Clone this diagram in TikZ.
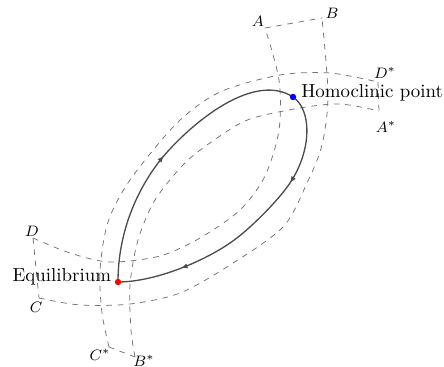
\documentclass[tikz,border=0pt]{standalone}
\usetikzlibrary{arrows.meta, positioning, decorations.markings}

\begin{document}
\begin{tikzpicture}[
        x=0.53pt, y=-0.53pt,
        every node/.style={font=\normalsize},
        tube/.style={draw=black!55, dashed, line width=0.4pt},
        orbit/.style={draw=black!70, line width=0.7pt},
        corner/.style={font=\footnotesize, inner sep=0pt},
        fixpt/.style={circle, inner sep=0pt, minimum size=3.4pt}
    ]
        \useasboundingbox (0,0) rectangle (444,367);

        % Corners of the boxes
        \coordinate (D) at (33,238);
        \coordinate (C) at (39,298);
        \coordinate (A) at (265,28);
        \coordinate (B) at (322,18);
        \coordinate (Ds) at (378,82);
        \coordinate (As) at (379,111);
        \coordinate (Cs) at (109,347);
        \coordinate (Bs) at (135,357);
        \coordinate (E) at (118,282);
        \coordinate (H) at (293,97);

        % Tube leaving the box to the right and up
        \draw[tube] plot[smooth] coordinates {(D) (70,253) (110,262) (160,256) (200,238) (240,210) (265,176) (279,130) (279,80) (A)};
        \draw[tube] plot[smooth] coordinates {(C) (80,305) (130,304) (180,293) (230,265) (283,227) (307,183) (322,145) (328,95) (B)};
        \draw[tube] (D) -- (C);
        \draw[tube] (A) -- (B);

        % Tube leaving the box upwards and around
        \draw[tube] plot[smooth] coordinates {(Cs) (102,313) (100,270) (108,222) (130,180) (177,123) (220,92) (280,75) (330,73) (Ds)};
        \draw[tube] plot[smooth] coordinates {(Bs) (131,330) (130,285) (138,240) (155,200) (186,162) (220,136) (250,119) (300,108) (340,104) (As)};
        \draw[tube] (Cs) -- (Bs);
        \draw[tube] (Ds) -- (As);

        % Homoclinic orbit
        \draw[orbit, postaction={decorate}, decoration={markings,
                mark=at position 0.47 with {\arrow{Triangle[length=3pt, width=2.4pt]}}}]
            (E) .. controls (118,232) and (137,189) .. (162,158)
                .. controls (194,120) and (255,72) .. (H);
        \draw[orbit, postaction={decorate}, decoration={markings,
                mark=at position 0.31 with {\arrow{Triangle[length=3pt, width=2.4pt]}},
                mark=at position 0.78 with {\arrow{Triangle[length=3pt, width=2.4pt]}}}]
            (H) .. controls (312,110) and (312,150) .. (290,183)
                .. controls (278,201) and (248,231) .. (230,243)
                .. controls (201,263) and (153,282) .. (E);

        % Fixed point and homoclinic point
        \node[fixpt, fill=red] (eq) at (E) {};
        \node[fixpt, fill=blue] (hom) at (H) {};
        \node[anchor=base east, inner sep=0pt] (eqlbl) at ([xshift=-3.5pt]E) {Equilibrium};
        \node[anchor=base west, inner sep=0pt] (homlbl) at ([xshift=4.2pt, yshift=-0.5pt]H) {Homoclinic point};

        % Corner labels
        \node[corner] (lblD) at (32,231) {$D$};
        \node[corner] (lblC) at (36,307) {$C$};
        \node[corner] (lblA) at (258,21) {$A$};
        \node[corner] (lblB) at (332,13) {$B$};
        \node[corner] (lblDs) at (385,73) {$D^{*}$};
        \node[corner] (lblAs) at (386,127) {$A^{*}$};
        \node[corner] (lblCs) at (100,355) {$C^{*}$};
        \node[corner] (lblBs) at (144,361) {$B^{*}$};
    \end{tikzpicture}
\end{document}
